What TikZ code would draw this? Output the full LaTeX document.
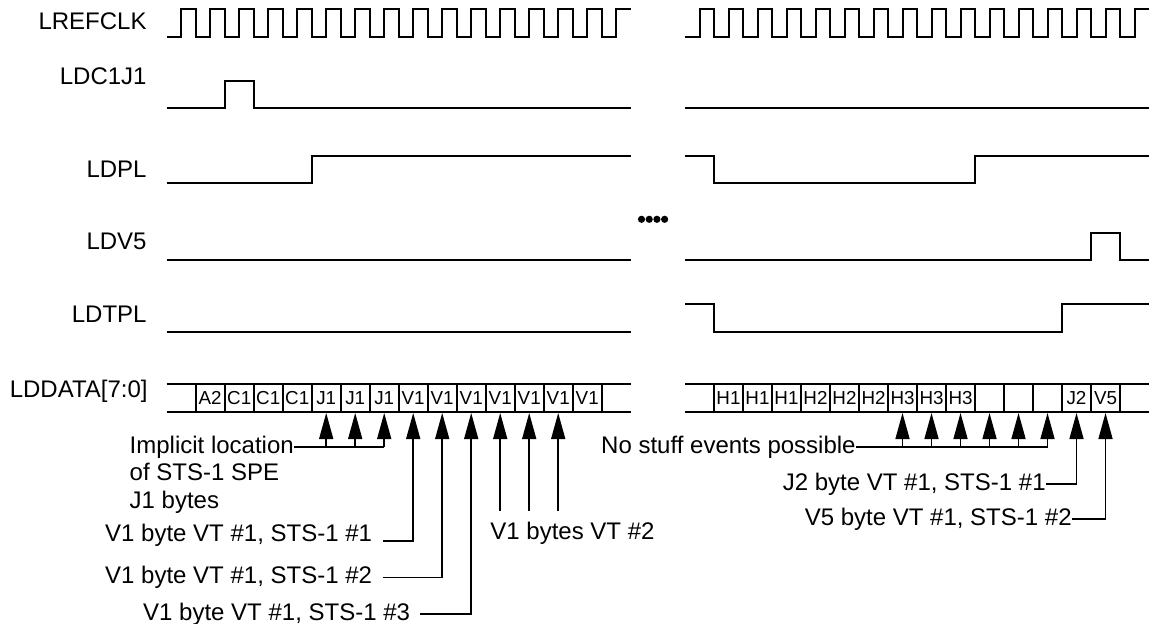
\documentclass[tikz,border=0pt]{standalone}
\usepackage{fontspec}
\setmainfont{Liberation Sans}
\usetikzlibrary{arrows.meta,calc}

\begin{document}
\begin{tikzpicture}[
  x=0.5pt,y=-0.5pt,
  font=\fontsize{12}{13.75}\selectfont,
  wave/.style={line width=1pt,line join=miter},
  signame/.style={inner sep=0pt,anchor=base east},
  cell/.style={
    draw,
    line width=1pt,
    minimum width=14.5pt,
    minimum height=14pt,
    inner sep=0pt,
    font=\fontsize{9.4}{11}\selectfont
  },
  tag/.style={inner sep=0pt},
  lead/.style={line width=0.75pt},
  pointer/.style={line width=0.75pt,-{Triangle[length=13pt,width=7pt]}}
]
\useasboundingbox (0,0) rectangle (1149,624);

% Signal names.
\node[signame] (nclk) at (147,30) {LREFCLK};
\node[signame] (nc1j1) at (147,85) {LDC1J1};
\node[signame] (npl) at (147,178) {LDPL};
\node[signame] (nv5) at (147,250) {LDV5};
\node[signame] (ntpl) at (147,323) {LDTPL};
\node[signame] (ndata) at (148,398) {LDDATA[7:0]};

% Reference clock, both halves.
\foreach \o in {166.7,685}{
  \draw[wave] (\o,37.3)
    \foreach \k in {0,...,14}{
      -| ({\o+(\k+0.5)*29},9.3) -| ({\o+(\k+1)*29},37.3)
    }
    -| ({\o+15.5*29},9.3) -- ({\o+16*29},9.3);
}

% LDC1J1.
\draw[wave] (166.7,108.5) -| (224.7,80.7) -| (253.7,108.5) -- (630.7,108.5);
\draw[wave] (685,108.5) -- (1149,108.5);

% LDPL.
\draw[wave] (166.7,183.3) -| (311.7,155.7) -- (630.7,155.7);
\draw[wave] (685,155.7) -| (714,183.3) -| (975,155.7) -- (1149,155.7);

% LDV5.
\draw[wave] (166.7,260) -- (630.7,260);
\draw[wave] (685,260) -| (1091,232.7) -| (1120,260) -- (1149,260);

% LDTPL.
\draw[wave] (166.7,332.5) -- (630.7,332.5);
\draw[wave] (685,304.3) -| (714,332.5) -| (1062,304.3) -- (1149,304.3);

% Time gap.
\foreach \x in {641.5,649.2,656.9,664.6}
  \fill (\x,219.3) circle[radius=1.8pt];

% Data bus.
\foreach \o in {166.7,685}{
  \draw[wave] (\o,384) -- ({\o+16*29},384) (\o,412) -- ({\o+16*29},412);
}
\foreach \v [count=\k] in {A2,C1,C1,C1,J1,J1,J1,V1,V1,V1,V1,V1,V1,V1}
  \node[cell] (dl\k) at ({166.7+(\k+0.5)*29},398) {\v};
\foreach \v [count=\k] in {H1,H1,H1,H2,H2,H2,H3,H3,H3,{},{},{},J2,V5}
  \node[cell] (dr\k) at ({685+(\k+0.5)*29},398) {\v};

% J1 locations.
\node[tag,anchor=base west] (implicit) at (129.3,453) {Implicit location};
\node[tag,anchor=base west] (implicitb) at ([yshift=-13.75pt]implicit.base west)
  {of STS-1 SPE};
\node[tag,anchor=base west] (implicitc) at ([yshift=-13.75pt]implicitb.base west)
  {J1 bytes};
\draw[lead] (implicit.east) -- (dl7.south |- implicit.east);
\foreach \k in {5,6,7}
  \draw[pointer] (dl\k.south |- implicit.east) -- (dl\k.south);

% V1 bytes, VT #1.
\node[tag,anchor=base east,outer xsep=5.5pt] (vtone) at (383,541)
  {V1 byte VT \#1, STS-1 \#1};
\draw[pointer] (vtone.base east) -| (dl8.south);
\node[tag,anchor=base east,outer xsep=5.5pt] (vtoneb) at (383,583.6)
  {V1 byte VT \#1, STS-1 \#2};
\draw[pointer] (vtoneb.east) -| (dl9.south);
\node[tag,anchor=base east,outer xsep=5pt] (vtonec) at (420,620)
  {V1 byte VT \#1, STS-1 \#3};
\draw[pointer] (vtonec.east) -| (dl10.south);

% V1 bytes, VT #2.
\node[tag,anchor=base west] (vttwo) at (490,539.5) {V1 bytes VT \#2};
\foreach \k in {11,12,13}{
  \coordinate (vtfoot\k) at (dl\k.south |- 0,510.7);
  \draw[pointer] (vtfoot\k) -- (dl\k.south);
}

% Right half notes.
\node[tag,anchor=base east] (nostuff) at (856,453) {No stuff events possible};
\draw[lead] (nostuff.east) -- (dr12.south |- nostuff.east);
\foreach \k in {7,...,12}
  \draw[pointer] (dr\k.south |- nostuff.east) -- (dr\k.south);
\node[tag,anchor=base east] (jtwo) at (1046,490) {J2 byte VT \#1, STS-1 \#1};
\draw[pointer] (jtwo.east) -| (dr13.south);
\node[tag,anchor=base east] (vfive) at (1072,525) {V5 byte VT \#1, STS-1 \#2};
\draw[pointer] (vfive.east) -| (dr14.south);
\end{tikzpicture}
\end{document}
